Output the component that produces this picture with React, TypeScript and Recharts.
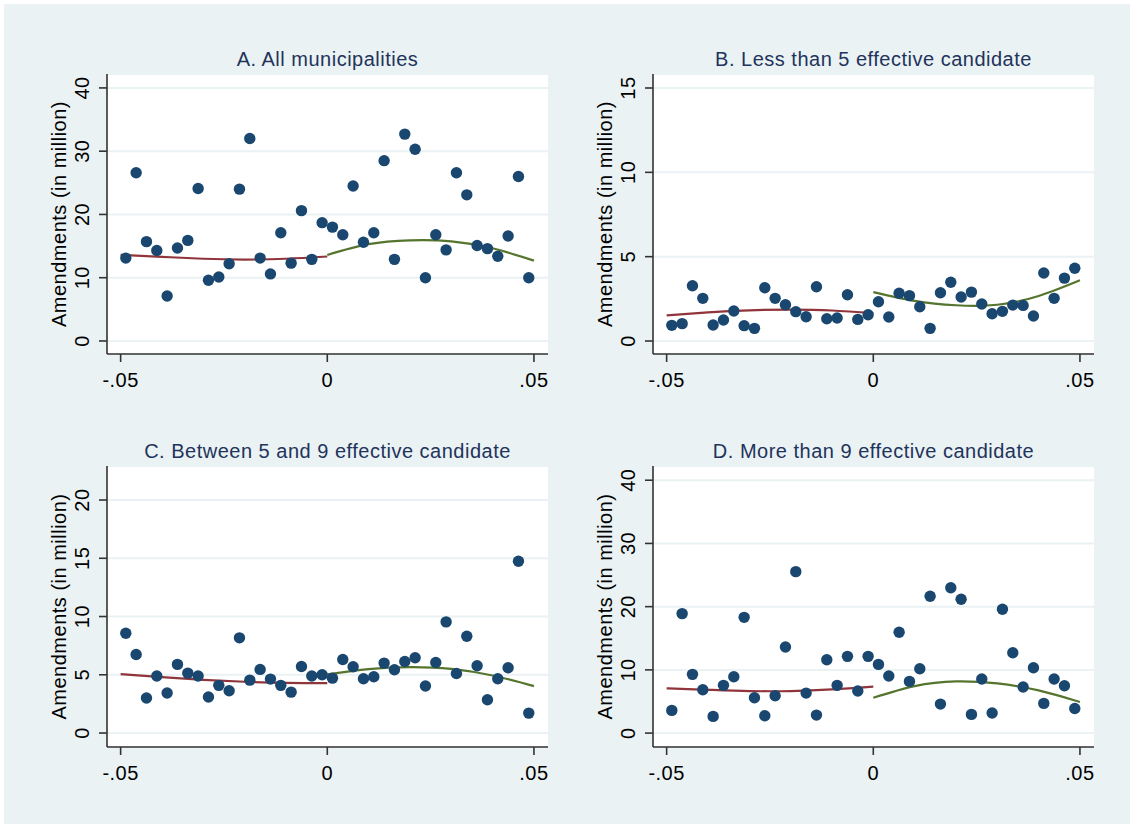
import React from 'react';
import { ComposedChart, Scatter, Line, XAxis, YAxis, CartesianGrid } from 'recharts';

// ---------- data ----------
const xBins = [
  -0.04875, -0.04625, -0.04375, -0.04125, -0.03875, -0.03625, -0.03375, -0.03125, -0.02875, -0.02625,
  -0.02375, -0.02125, -0.01875, -0.01625, -0.01375, -0.01125, -0.00875, -0.00625, -0.00375, -0.00125,
  0.00125, 0.00375, 0.00625, 0.00875, 0.01125, 0.01375, 0.01625, 0.01875, 0.02125, 0.02375,
  0.02625, 0.02875, 0.03125, 0.03375, 0.03625, 0.03875, 0.04125, 0.04375, 0.04625, 0.04875,
];

const amendA = [
  13.1, 26.6, 15.7, 14.3, 7.1, 14.7, 15.9, 24.1, 9.6, 10.1,
  12.2, 24.0, 32.0, 13.1, 10.6, 17.1, 12.3, 20.6, 12.9, 18.7,
  18.0, 16.8, 24.5, 15.6, 17.1, 28.5, 12.9, 32.7, 30.3, 10.0,
  16.8, 14.4, 26.6, 23.1, 15.1, 14.6, 13.4, 16.6, 26.0, 10.0,
];
const amendB = [
  0.93, 1.03, 3.28, 2.53, 0.95, 1.25, 1.78, 0.91, 0.75, 3.16,
  2.53, 2.15, 1.74, 1.44, 3.22, 1.32, 1.36, 2.74, 1.28, 1.56,
  2.33, 1.42, 2.83, 2.69, 2.03, 0.75, 2.86, 3.48, 2.61, 2.9,
  2.19, 1.62, 1.76, 2.13, 2.11, 1.48, 4.03, 2.53, 3.73, 4.31,
];
const amendC = [
  8.57, 6.74, 3.0, 4.89, 3.43, 5.89, 5.14, 4.89, 3.09, 4.09,
  3.63, 8.17, 4.54, 5.46, 4.63, 4.09, 3.51, 5.71, 4.89, 5.0,
  4.71, 6.31, 5.69, 4.66, 4.83, 6.0, 5.43, 6.14, 6.46, 4.03,
  6.06, 9.54, 5.11, 8.31, 5.77, 2.86, 4.66, 5.6, 14.74, 1.71,
];
const amendD = [
  3.59, 18.9, 9.29, 6.86, 2.64, 7.55, 8.92, 18.31, 5.59, 2.74,
  5.91, 13.61, 25.54, 6.33, 2.85, 11.61, 7.55, 12.14, 6.65, 12.14,
  10.87, 9.02, 15.94, 8.18, 10.18, 21.64, 4.59, 23.0, 21.16, 2.96,
  8.55, 3.17, 19.58, 12.72, 7.28, 10.34, 4.7, 8.55, 7.49, 3.9,
];

const fitLeftX = [-0.05, -0.04, -0.03, -0.02, -0.01, 0];
const fitRightX = [0, 0.01, 0.02, 0.03, 0.04, 0.05];

const fitA_L = [13.6, 13.3, 13.0, 12.87, 13.0, 13.35];
const fitA_R = [13.6, 15.3, 15.9, 15.75, 14.65, 12.7];
const fitB_L = [1.52, 1.7, 1.82, 1.86, 1.81, 1.65];
const fitB_R = [2.9, 2.38, 2.12, 2.15, 2.67, 3.6];
const fitC_L = [5.06, 4.8, 4.57, 4.4, 4.3, 4.29];
const fitC_R = [5.03, 5.49, 5.66, 5.51, 4.94, 4.03];
const fitD_L = [7.07, 6.85, 6.65, 6.65, 6.9, 7.34];
const fitD_R = [5.59, 7.44, 8.18, 7.85, 6.75, 4.91];

const xTicks = [-0.05, 0, 0.05];
const xTickLabels = ['-.05', '0', '.05'];
const yTicksA = [0, 10, 20, 30, 40];
const yTicksB = [0, 5, 10, 15];
const yTicksC = [0, 5, 10, 15, 20];
const yTicksD = [0, 10, 20, 30, 40];

const titles = [
  'A. All municipalities',
  'B. Less than 5 effective candidate',
  'C. Between 5 and 9 effective candidate',
  'D. More than 9 effective candidate',
];
const yTitle = 'Amendments (in million)';

// ---------- styles ----------
const FONT = '"Liberation Sans", Arial, Helvetica, sans-serif';
const NAVY = '#1A476F';
const MAROON = '#90353B';
const GREEN = '#55752F';
const BG = '#EAF2F3';
const AXIS = '#333333';
const TITLE_COLOR = '#22335C';

const X_DOMAIN: [number, number] = [-0.0533, 0.0534];
const PW = 565;
const PH = 412;
const Y_AXIS_W = 60;
const X_AXIS_H = 40;

const renderDot = (props: any) => {
  const { cx, cy } = props;
  if (cx == null || cy == null) return <g />;
  return <circle cx={cx} cy={cy} r={5.7} fill={NAVY} />;
};

const renderXTick = (props: any) => {
  const { x, y, payload } = props;
  const idx = xTicks.indexOf(payload.value);
  const label = idx >= 0 ? xTickLabels[idx] : String(payload.value);
  return (
    <text
      x={x}
      y={y + 16}
      textAnchor="middle"
      dominantBaseline="central"
      fill="#000"
      fontSize={20}
      letterSpacing={0.5}
      fontFamily={FONT}
    >
      {label}
    </text>
  );
};

const renderYTick = (props: any) => {
  const { x, y, payload } = props;
  const cx = x - 15;
  return (
    <text
      x={cx}
      y={y}
      transform={`rotate(-90, ${cx}, ${y})`}
      textAnchor="middle"
      dominantBaseline="central"
      fill="#000"
      fontSize={20}
      letterSpacing={0.5}
      fontFamily={FONT}
    >
      {String(payload.value)}
    </text>
  );
};

type PanelProps = {
  left: number;
  top: number;
  title: string;
  values: number[];
  yTicks: number[];
  yDomain: [number, number];
  fitL: number[];
  fitR: number[];
  m: { top: number; right: number; bottom: number; left: number };
};

function Panel({ left, top, title, values, yTicks, yDomain, fitL, fitR, m }: PanelProps) {
  const points = xBins.map((x, i) => ({ x, y: values[i] }));
  const leftFit = fitLeftX.map((x, i) => ({ x, y: fitL[i] }));
  const rightFit = fitRightX.map((x, i) => ({ x, y: fitR[i] }));
  const plotLeft = m.left + Y_AXIS_W;
  const plotRight = PW - m.right;
  const plotTop = m.top;
  const plotBottom = PH - m.bottom - X_AXIS_H;
  const ylx = plotLeft - 48;
  const yly = (plotTop + plotBottom) / 2;
  return (
    <div style={{ position: 'absolute', left, top, width: PW, height: PH }}>
      <ComposedChart width={PW} height={PH} margin={m}>
        <CartesianGrid
          horizontal
          vertical={false}
          stroke={BG}
          strokeWidth={2}
          fill="#FFFFFF"
          fillOpacity={1}
        />
        <XAxis
          type="number"
          dataKey="x"
          domain={X_DOMAIN}
          allowDataOverflow
          ticks={xTicks}
          interval={0}
          height={X_AXIS_H}
          tickSize={8}
          tickMargin={2}
          axisLine={{ stroke: AXIS, strokeWidth: 1.6 }}
          tickLine={{ stroke: AXIS, strokeWidth: 1.6 }}
          tick={renderXTick}
        />
        <YAxis
          type="number"
          dataKey="y"
          domain={yDomain}
          allowDataOverflow
          ticks={yTicks}
          interval={0}
          width={Y_AXIS_W}
          tickSize={8}
          tickMargin={2}
          axisLine={{ stroke: AXIS, strokeWidth: 1.6 }}
          tickLine={{ stroke: AXIS, strokeWidth: 1.6 }}
          tick={renderYTick}
        />
        <Scatter data={points} dataKey="y" shape={renderDot} isAnimationActive={false} />
        <Line
          data={leftFit}
          dataKey="y"
          type="natural"
          stroke={MAROON}
          strokeWidth={2.2}
          dot={false}
          activeDot={false}
          isAnimationActive={false}
        />
        <Line
          data={rightFit}
          dataKey="y"
          type="natural"
          stroke={GREEN}
          strokeWidth={2.2}
          dot={false}
          activeDot={false}
          isAnimationActive={false}
        />
      </ComposedChart>
      <svg
        width={PW}
        height={PH}
        style={{ position: 'absolute', left: 0, top: 0, pointerEvents: 'none' }}
      >
        <text
          x={(plotLeft + plotRight) / 2}
          y={plotTop - 15}
          textAnchor="middle"
          dominantBaseline="central"
          fill={TITLE_COLOR}
          fontSize={20}
          letterSpacing={0.5}
          fontFamily={FONT}
        >
          {title}
        </text>
        <text
          x={ylx}
          y={yly}
          transform={`rotate(-90, ${ylx}, ${yly})`}
          textAnchor="middle"
          dominantBaseline="central"
          fill="#000"
          fontSize={20}
          letterSpacing={0.5}
          fontFamily={FONT}
        >
          {yTitle}
        </text>
      </svg>
    </div>
  );
}

export default function App() {
  const mTopLeft = { top: 74, right: 17, bottom: 18, left: 47 };
  const mTopRight = { top: 74, right: 36, bottom: 18, left: 28 };
  const mBotLeft = { top: 54, right: 17, bottom: 37, left: 47 };
  const mBotRight = { top: 54, right: 36, bottom: 37, left: 28 };
  return (
    <div
      style={{
        position: 'absolute',
        left: 0,
        top: 0,
        width: 1130,
        height: 824,
        background: '#FFFFFF',
        fontFamily: FONT,
        overflow: 'hidden',
      }}
    >
      <div style={{ position: 'absolute', left: 4, top: 4, width: 1126, height: 820, background: BG }} />
      <Panel left={0} top={0} title={titles[0]} values={amendA} yTicks={yTicksA} yDomain={[-2.06, 42.2]} fitL={fitA_L} fitR={fitA_R} m={mTopLeft} />
      <Panel left={565} top={0} title={titles[1]} values={amendB} yTicks={yTicksB} yDomain={[-0.77, 15.83]} fitL={fitB_L} fitR={fitB_R} m={mTopRight} />
      <Panel left={0} top={412} title={titles[2]} values={amendC} yTicks={yTicksC} yDomain={[-1.2, 22.92]} fitL={fitC_L} fitR={fitC_R} m={mBotLeft} />
      <Panel left={565} top={412} title={titles[3]} values={amendD} yTicks={yTicksD} yDomain={[-2.2, 42.25]} fitL={fitD_L} fitR={fitD_R} m={mBotRight} />
    </div>
  );
}
